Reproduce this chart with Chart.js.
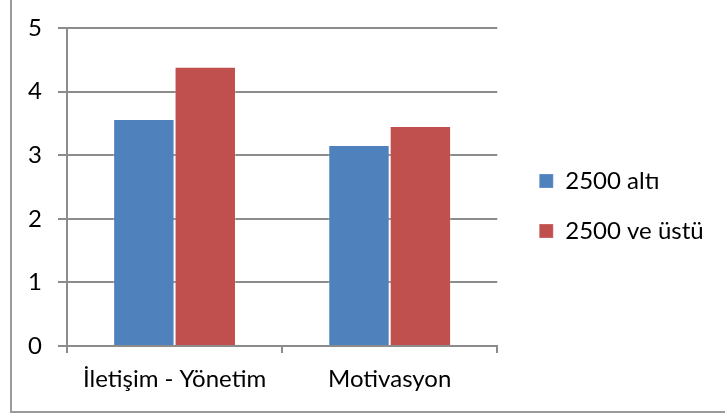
<!DOCTYPE html>
<html lang="tr">
<head>
<meta charset="utf-8">
<title>2500 altı / 2500 ve üstü</title>
<script src="https://cdn.jsdelivr.net/npm/chart.js@4/dist/chart.umd.min.js"></script>
<style>
  html, body { margin: 0; padding: 0; background: #fff; }
  #wrap { position: relative; width: 725px; height: 416px; overflow: hidden; }
  #frame {
    position: absolute; left: 10px; top: -10px; width: 740px; height: 423px;
    border-left: 2px solid #9a9a9a; border-bottom: 2px solid #9a9a9a;
    box-sizing: border-box; pointer-events: none;
  }
  canvas { position: absolute; left: 0; top: 0; }
</style>
</head>
<body>
<div id="wrap">
  <canvas id="chart" width="725" height="416"></canvas>
  <div id="frame"></div>
</div>
<script>
// Category labels and the two income groups
const categories = ['İletişim - Yönetim', 'Motivasyon'];
const seriesNames = ['2500 altı', '2500 ve üstü'];
const below2500 = [3.57, 3.16];
const above2500 = [4.39, 3.46];
const yTicks = [0, 1, 2, 3, 4, 5];

const FONT = { family: 'Lato, "Open Sans", sans-serif', size: 24 };
const GRID = '#8c8c8c';

// Moves the legend column right of the plot area and gives its text room
const legendNudge = {
  id: 'legendNudge',
  afterLayout(chart) {
    const lg = chart.legend;
    if (!lg) return;
    lg.left += 16;
    lg.width = 200;
    lg.right = lg.left + lg.width;
    lg.top -= 2;
    lg.bottom -= 2;
  }
};

new Chart(document.getElementById('chart'), {
  type: 'bar',
  data: {
    labels: categories,
    datasets: [
      { label: seriesNames[0], data: below2500, backgroundColor: '#4f81bd',
        borderColor: 'rgba(255,255,255,0.25)', borderWidth: 1 },
      { label: seriesNames[1], data: above2500, backgroundColor: '#c0504d',
        borderColor: 'rgba(255,255,255,0.25)', borderWidth: 1 }
    ]
  },
  options: {
    responsive: false,
    animation: false,
    devicePixelRatio: 1,
    layout: { padding: { left: 0, top: 0, right: 62, bottom: 0 } },
    datasets: { bar: { categoryPercentage: 0.571, barPercentage: 1 } },
    plugins: {
      tooltip: { enabled: false },
      legend: {
        position: 'right',
        labels: {
          boxWidth: 14, boxHeight: 14, padding: 26,
          color: '#000', font: FONT
        }
      }
    },
    scales: {
      x: {
        grid: { display: true, drawOnChartArea: false, drawTicks: true,
                tickLength: 7, color: GRID, lineWidth: 2, offset: true },
        border: { display: true, color: GRID, width: 2 },
        ticks: { color: '#000', font: FONT, padding: 12, maxRotation: 0 },
        afterFit(s) { s.height = 70; }
      },
      y: {
        min: 0, max: 5,
        afterBuildTicks(s) { s.ticks = yTicks.map(v => ({ value: v })); },
        grid: { color: GRID, lineWidth: 2, drawTicks: true, tickLength: 9 },
        border: { display: true, color: GRID, width: 2 },
        ticks: { color: '#000', font: FONT, padding: 16 },
        afterFit(s) { s.width = 67; s.paddingTop = 28; }
      }
    }
  },
  plugins: [legendNudge]
});
</script>
</body>
</html>
